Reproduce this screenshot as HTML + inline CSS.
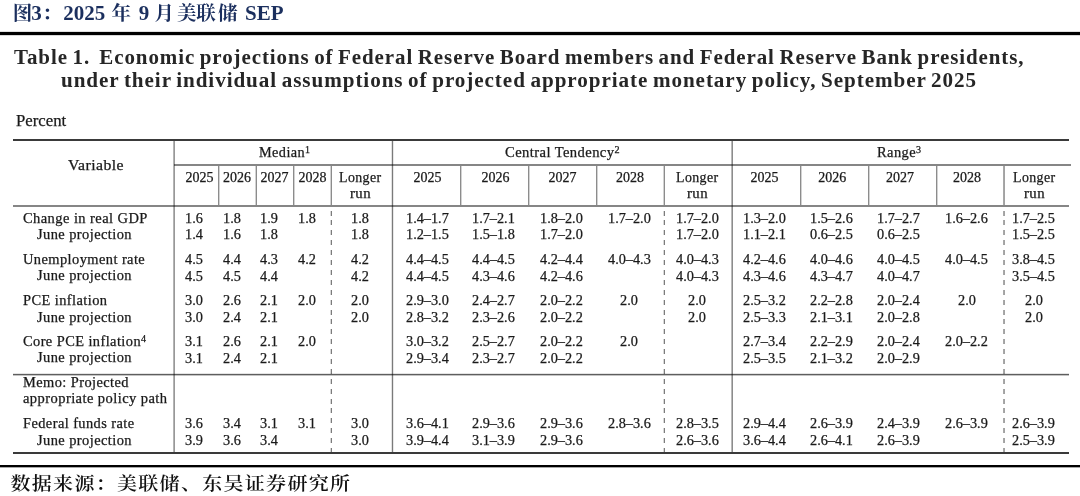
<!DOCTYPE html>
<html><head><meta charset="utf-8"><title>Table 1</title>
<style>
html,body{margin:0;padding:0;background:#fff;}
body{width:1080px;height:496px;position:relative;overflow:hidden;}
.t{position:absolute;line-height:0;white-space:pre;transform-origin:0 0;}
.r{-webkit-text-stroke:0.25px currentColor;}
.l{position:absolute;mix-blend-mode:multiply;}
sup{font-size:70%;vertical-align:0;position:relative;top:-0.45em;line-height:0}
</style></head><body>
<div class='l' style='left:0px;top:31px;width:1080px;height:1px;background:#e0e0e0'></div>
<div class='l' style='left:0px;top:32px;width:1080px;height:3px;background:#000'></div>
<div class='l' style='left:0px;top:35px;width:1080px;height:1px;background:#d8d8d8'></div>
<div class='l' style='left:13px;top:139px;width:1056px;height:2px;background:#3a3a3a'></div>
<div class='l' style='left:174px;top:164px;width:897px;height:2px;background:#868686'></div>
<div class='l' style='left:13px;top:205px;width:1056px;height:2px;background:#868686'></div>
<div class='l' style='left:13px;top:373px;width:1056px;height:1px;background:#e4e4e4'></div>
<div class='l' style='left:13px;top:374px;width:1056px;height:1px;background:#5e5e5e'></div>
<div class='l' style='left:13px;top:375px;width:1056px;height:1px;background:#c4c4c4'></div>
<div class='l' style='left:13px;top:452px;width:1056px;height:2px;background:#3a3a3a'></div>
<div class='l' style='left:0px;top:465px;width:1080px;height:2px;background:#000'></div>
<div class='l' style='left:0px;top:467px;width:1080px;height:1px;background:#a8a8a8'></div>
<div class='l' style='left:173px;top:141px;width:1px;height:311px;background:#b4b4b4'></div>
<div class='l' style='left:174px;top:141px;width:1px;height:311px;background:#989898'></div>
<div class='l' style='left:391px;top:141px;width:1px;height:311px;background:#e2e2e2'></div>
<div class='l' style='left:392px;top:141px;width:1px;height:311px;background:#7a7a7a'></div>
<div class='l' style='left:393px;top:141px;width:1px;height:311px;background:#e8e8e8'></div>
<div class='l' style='left:731px;top:141px;width:1px;height:311px;background:#bababa'></div>
<div class='l' style='left:732px;top:141px;width:1px;height:311px;background:#8c8c8c'></div>
<div class='l' style='left:218px;top:166px;width:1px;height:39px;background:#8c8c8c'></div>
<div class='l' style='left:219px;top:166px;width:1px;height:39px;background:#d2d2d2'></div>
<div class='l' style='left:256px;top:166px;width:1px;height:39px;background:#8c8c8c'></div>
<div class='l' style='left:255px;top:166px;width:1px;height:39px;background:#d2d2d2'></div>
<div class='l' style='left:293px;top:166px;width:1px;height:39px;background:#8c8c8c'></div>
<div class='l' style='left:294px;top:166px;width:1px;height:39px;background:#d2d2d2'></div>
<div class='l' style='left:460px;top:166px;width:1px;height:39px;background:#8c8c8c'></div>
<div class='l' style='left:461px;top:166px;width:1px;height:39px;background:#d2d2d2'></div>
<div class='l' style='left:528px;top:166px;width:1px;height:39px;background:#8c8c8c'></div>
<div class='l' style='left:529px;top:166px;width:1px;height:39px;background:#d2d2d2'></div>
<div class='l' style='left:596px;top:166px;width:1px;height:39px;background:#8c8c8c'></div>
<div class='l' style='left:597px;top:166px;width:1px;height:39px;background:#d2d2d2'></div>
<div class='l' style='left:800px;top:166px;width:1px;height:39px;background:#8c8c8c'></div>
<div class='l' style='left:801px;top:166px;width:1px;height:39px;background:#d2d2d2'></div>
<div class='l' style='left:868px;top:166px;width:1px;height:39px;background:#8c8c8c'></div>
<div class='l' style='left:869px;top:166px;width:1px;height:39px;background:#d2d2d2'></div>
<div class='l' style='left:936px;top:166px;width:1px;height:39px;background:#8c8c8c'></div>
<div class='l' style='left:937px;top:166px;width:1px;height:39px;background:#d2d2d2'></div>
<div class='l' style='left:331px;top:166px;width:1px;height:39px;background:#8c8c8c'></div>
<div class='l' style='left:330px;top:166px;width:1px;height:39px;background:#d2d2d2'></div>
<div class='l' style='left:331px;top:211px;width:1px;height:5px;background:#7c7c7c'></div>
<div class='l' style='left:331px;top:220px;width:1px;height:5px;background:#7c7c7c'></div>
<div class='l' style='left:331px;top:230px;width:1px;height:5px;background:#7c7c7c'></div>
<div class='l' style='left:331px;top:240px;width:1px;height:5px;background:#7c7c7c'></div>
<div class='l' style='left:331px;top:250px;width:1px;height:5px;background:#7c7c7c'></div>
<div class='l' style='left:331px;top:260px;width:1px;height:5px;background:#7c7c7c'></div>
<div class='l' style='left:331px;top:270px;width:1px;height:5px;background:#7c7c7c'></div>
<div class='l' style='left:331px;top:280px;width:1px;height:5px;background:#7c7c7c'></div>
<div class='l' style='left:331px;top:290px;width:1px;height:5px;background:#7c7c7c'></div>
<div class='l' style='left:331px;top:300px;width:1px;height:5px;background:#7c7c7c'></div>
<div class='l' style='left:331px;top:310px;width:1px;height:5px;background:#7c7c7c'></div>
<div class='l' style='left:331px;top:319px;width:1px;height:5px;background:#7c7c7c'></div>
<div class='l' style='left:331px;top:329px;width:1px;height:5px;background:#7c7c7c'></div>
<div class='l' style='left:331px;top:339px;width:1px;height:5px;background:#7c7c7c'></div>
<div class='l' style='left:331px;top:349px;width:1px;height:5px;background:#7c7c7c'></div>
<div class='l' style='left:331px;top:359px;width:1px;height:5px;background:#7c7c7c'></div>
<div class='l' style='left:331px;top:369px;width:1px;height:5px;background:#7c7c7c'></div>
<div class='l' style='left:331px;top:379px;width:1px;height:5px;background:#7c7c7c'></div>
<div class='l' style='left:331px;top:389px;width:1px;height:5px;background:#7c7c7c'></div>
<div class='l' style='left:331px;top:399px;width:1px;height:5px;background:#7c7c7c'></div>
<div class='l' style='left:331px;top:408px;width:1px;height:5px;background:#7c7c7c'></div>
<div class='l' style='left:331px;top:418px;width:1px;height:5px;background:#7c7c7c'></div>
<div class='l' style='left:331px;top:428px;width:1px;height:5px;background:#7c7c7c'></div>
<div class='l' style='left:331px;top:438px;width:1px;height:5px;background:#7c7c7c'></div>
<div class='l' style='left:331px;top:448px;width:1px;height:4px;background:#7c7c7c'></div>
<div class='l' style='left:330px;top:211px;width:1px;height:5px;background:#d8d8d8'></div>
<div class='l' style='left:330px;top:220px;width:1px;height:5px;background:#d8d8d8'></div>
<div class='l' style='left:330px;top:230px;width:1px;height:5px;background:#d8d8d8'></div>
<div class='l' style='left:330px;top:240px;width:1px;height:5px;background:#d8d8d8'></div>
<div class='l' style='left:330px;top:250px;width:1px;height:5px;background:#d8d8d8'></div>
<div class='l' style='left:330px;top:260px;width:1px;height:5px;background:#d8d8d8'></div>
<div class='l' style='left:330px;top:270px;width:1px;height:5px;background:#d8d8d8'></div>
<div class='l' style='left:330px;top:280px;width:1px;height:5px;background:#d8d8d8'></div>
<div class='l' style='left:330px;top:290px;width:1px;height:5px;background:#d8d8d8'></div>
<div class='l' style='left:330px;top:300px;width:1px;height:5px;background:#d8d8d8'></div>
<div class='l' style='left:330px;top:310px;width:1px;height:5px;background:#d8d8d8'></div>
<div class='l' style='left:330px;top:319px;width:1px;height:5px;background:#d8d8d8'></div>
<div class='l' style='left:330px;top:329px;width:1px;height:5px;background:#d8d8d8'></div>
<div class='l' style='left:330px;top:339px;width:1px;height:5px;background:#d8d8d8'></div>
<div class='l' style='left:330px;top:349px;width:1px;height:5px;background:#d8d8d8'></div>
<div class='l' style='left:330px;top:359px;width:1px;height:5px;background:#d8d8d8'></div>
<div class='l' style='left:330px;top:369px;width:1px;height:5px;background:#d8d8d8'></div>
<div class='l' style='left:330px;top:379px;width:1px;height:5px;background:#d8d8d8'></div>
<div class='l' style='left:330px;top:389px;width:1px;height:5px;background:#d8d8d8'></div>
<div class='l' style='left:330px;top:399px;width:1px;height:5px;background:#d8d8d8'></div>
<div class='l' style='left:330px;top:408px;width:1px;height:5px;background:#d8d8d8'></div>
<div class='l' style='left:330px;top:418px;width:1px;height:5px;background:#d8d8d8'></div>
<div class='l' style='left:330px;top:428px;width:1px;height:5px;background:#d8d8d8'></div>
<div class='l' style='left:330px;top:438px;width:1px;height:5px;background:#d8d8d8'></div>
<div class='l' style='left:330px;top:448px;width:1px;height:4px;background:#d8d8d8'></div>
<div class='l' style='left:664px;top:166px;width:1px;height:39px;background:#8c8c8c'></div>
<div class='l' style='left:663px;top:166px;width:1px;height:39px;background:#d2d2d2'></div>
<div class='l' style='left:664px;top:211px;width:1px;height:5px;background:#7c7c7c'></div>
<div class='l' style='left:664px;top:220px;width:1px;height:5px;background:#7c7c7c'></div>
<div class='l' style='left:664px;top:230px;width:1px;height:5px;background:#7c7c7c'></div>
<div class='l' style='left:664px;top:240px;width:1px;height:5px;background:#7c7c7c'></div>
<div class='l' style='left:664px;top:250px;width:1px;height:5px;background:#7c7c7c'></div>
<div class='l' style='left:664px;top:260px;width:1px;height:5px;background:#7c7c7c'></div>
<div class='l' style='left:664px;top:270px;width:1px;height:5px;background:#7c7c7c'></div>
<div class='l' style='left:664px;top:280px;width:1px;height:5px;background:#7c7c7c'></div>
<div class='l' style='left:664px;top:290px;width:1px;height:5px;background:#7c7c7c'></div>
<div class='l' style='left:664px;top:300px;width:1px;height:5px;background:#7c7c7c'></div>
<div class='l' style='left:664px;top:310px;width:1px;height:5px;background:#7c7c7c'></div>
<div class='l' style='left:664px;top:319px;width:1px;height:5px;background:#7c7c7c'></div>
<div class='l' style='left:664px;top:329px;width:1px;height:5px;background:#7c7c7c'></div>
<div class='l' style='left:664px;top:339px;width:1px;height:5px;background:#7c7c7c'></div>
<div class='l' style='left:664px;top:349px;width:1px;height:5px;background:#7c7c7c'></div>
<div class='l' style='left:664px;top:359px;width:1px;height:5px;background:#7c7c7c'></div>
<div class='l' style='left:664px;top:369px;width:1px;height:5px;background:#7c7c7c'></div>
<div class='l' style='left:664px;top:379px;width:1px;height:5px;background:#7c7c7c'></div>
<div class='l' style='left:664px;top:389px;width:1px;height:5px;background:#7c7c7c'></div>
<div class='l' style='left:664px;top:399px;width:1px;height:5px;background:#7c7c7c'></div>
<div class='l' style='left:664px;top:408px;width:1px;height:5px;background:#7c7c7c'></div>
<div class='l' style='left:664px;top:418px;width:1px;height:5px;background:#7c7c7c'></div>
<div class='l' style='left:664px;top:428px;width:1px;height:5px;background:#7c7c7c'></div>
<div class='l' style='left:664px;top:438px;width:1px;height:5px;background:#7c7c7c'></div>
<div class='l' style='left:664px;top:448px;width:1px;height:4px;background:#7c7c7c'></div>
<div class='l' style='left:663px;top:211px;width:1px;height:5px;background:#d8d8d8'></div>
<div class='l' style='left:663px;top:220px;width:1px;height:5px;background:#d8d8d8'></div>
<div class='l' style='left:663px;top:230px;width:1px;height:5px;background:#d8d8d8'></div>
<div class='l' style='left:663px;top:240px;width:1px;height:5px;background:#d8d8d8'></div>
<div class='l' style='left:663px;top:250px;width:1px;height:5px;background:#d8d8d8'></div>
<div class='l' style='left:663px;top:260px;width:1px;height:5px;background:#d8d8d8'></div>
<div class='l' style='left:663px;top:270px;width:1px;height:5px;background:#d8d8d8'></div>
<div class='l' style='left:663px;top:280px;width:1px;height:5px;background:#d8d8d8'></div>
<div class='l' style='left:663px;top:290px;width:1px;height:5px;background:#d8d8d8'></div>
<div class='l' style='left:663px;top:300px;width:1px;height:5px;background:#d8d8d8'></div>
<div class='l' style='left:663px;top:310px;width:1px;height:5px;background:#d8d8d8'></div>
<div class='l' style='left:663px;top:319px;width:1px;height:5px;background:#d8d8d8'></div>
<div class='l' style='left:663px;top:329px;width:1px;height:5px;background:#d8d8d8'></div>
<div class='l' style='left:663px;top:339px;width:1px;height:5px;background:#d8d8d8'></div>
<div class='l' style='left:663px;top:349px;width:1px;height:5px;background:#d8d8d8'></div>
<div class='l' style='left:663px;top:359px;width:1px;height:5px;background:#d8d8d8'></div>
<div class='l' style='left:663px;top:369px;width:1px;height:5px;background:#d8d8d8'></div>
<div class='l' style='left:663px;top:379px;width:1px;height:5px;background:#d8d8d8'></div>
<div class='l' style='left:663px;top:389px;width:1px;height:5px;background:#d8d8d8'></div>
<div class='l' style='left:663px;top:399px;width:1px;height:5px;background:#d8d8d8'></div>
<div class='l' style='left:663px;top:408px;width:1px;height:5px;background:#d8d8d8'></div>
<div class='l' style='left:663px;top:418px;width:1px;height:5px;background:#d8d8d8'></div>
<div class='l' style='left:663px;top:428px;width:1px;height:5px;background:#d8d8d8'></div>
<div class='l' style='left:663px;top:438px;width:1px;height:5px;background:#d8d8d8'></div>
<div class='l' style='left:663px;top:448px;width:1px;height:4px;background:#d8d8d8'></div>
<div class='l' style='left:1004px;top:166px;width:1px;height:39px;background:#a2a2a2'></div>
<div class='l' style='left:1003px;top:166px;width:1px;height:39px;background:#a8a8a8'></div>
<div class='l' style='left:1004px;top:211px;width:1px;height:5px;background:#a2a2a2'></div>
<div class='l' style='left:1004px;top:220px;width:1px;height:5px;background:#a2a2a2'></div>
<div class='l' style='left:1004px;top:230px;width:1px;height:5px;background:#a2a2a2'></div>
<div class='l' style='left:1004px;top:240px;width:1px;height:5px;background:#a2a2a2'></div>
<div class='l' style='left:1004px;top:250px;width:1px;height:5px;background:#a2a2a2'></div>
<div class='l' style='left:1004px;top:260px;width:1px;height:5px;background:#a2a2a2'></div>
<div class='l' style='left:1004px;top:270px;width:1px;height:5px;background:#a2a2a2'></div>
<div class='l' style='left:1004px;top:280px;width:1px;height:5px;background:#a2a2a2'></div>
<div class='l' style='left:1004px;top:290px;width:1px;height:5px;background:#a2a2a2'></div>
<div class='l' style='left:1004px;top:300px;width:1px;height:5px;background:#a2a2a2'></div>
<div class='l' style='left:1004px;top:310px;width:1px;height:5px;background:#a2a2a2'></div>
<div class='l' style='left:1004px;top:319px;width:1px;height:5px;background:#a2a2a2'></div>
<div class='l' style='left:1004px;top:329px;width:1px;height:5px;background:#a2a2a2'></div>
<div class='l' style='left:1004px;top:339px;width:1px;height:5px;background:#a2a2a2'></div>
<div class='l' style='left:1004px;top:349px;width:1px;height:5px;background:#a2a2a2'></div>
<div class='l' style='left:1004px;top:359px;width:1px;height:5px;background:#a2a2a2'></div>
<div class='l' style='left:1004px;top:369px;width:1px;height:5px;background:#a2a2a2'></div>
<div class='l' style='left:1004px;top:379px;width:1px;height:5px;background:#a2a2a2'></div>
<div class='l' style='left:1004px;top:389px;width:1px;height:5px;background:#a2a2a2'></div>
<div class='l' style='left:1004px;top:399px;width:1px;height:5px;background:#a2a2a2'></div>
<div class='l' style='left:1004px;top:408px;width:1px;height:5px;background:#a2a2a2'></div>
<div class='l' style='left:1004px;top:418px;width:1px;height:5px;background:#a2a2a2'></div>
<div class='l' style='left:1004px;top:428px;width:1px;height:5px;background:#a2a2a2'></div>
<div class='l' style='left:1004px;top:438px;width:1px;height:5px;background:#a2a2a2'></div>
<div class='l' style='left:1004px;top:448px;width:1px;height:4px;background:#a2a2a2'></div>
<div class='l' style='left:1003px;top:211px;width:1px;height:5px;background:#a8a8a8'></div>
<div class='l' style='left:1003px;top:220px;width:1px;height:5px;background:#a8a8a8'></div>
<div class='l' style='left:1003px;top:230px;width:1px;height:5px;background:#a8a8a8'></div>
<div class='l' style='left:1003px;top:240px;width:1px;height:5px;background:#a8a8a8'></div>
<div class='l' style='left:1003px;top:250px;width:1px;height:5px;background:#a8a8a8'></div>
<div class='l' style='left:1003px;top:260px;width:1px;height:5px;background:#a8a8a8'></div>
<div class='l' style='left:1003px;top:270px;width:1px;height:5px;background:#a8a8a8'></div>
<div class='l' style='left:1003px;top:280px;width:1px;height:5px;background:#a8a8a8'></div>
<div class='l' style='left:1003px;top:290px;width:1px;height:5px;background:#a8a8a8'></div>
<div class='l' style='left:1003px;top:300px;width:1px;height:5px;background:#a8a8a8'></div>
<div class='l' style='left:1003px;top:310px;width:1px;height:5px;background:#a8a8a8'></div>
<div class='l' style='left:1003px;top:319px;width:1px;height:5px;background:#a8a8a8'></div>
<div class='l' style='left:1003px;top:329px;width:1px;height:5px;background:#a8a8a8'></div>
<div class='l' style='left:1003px;top:339px;width:1px;height:5px;background:#a8a8a8'></div>
<div class='l' style='left:1003px;top:349px;width:1px;height:5px;background:#a8a8a8'></div>
<div class='l' style='left:1003px;top:359px;width:1px;height:5px;background:#a8a8a8'></div>
<div class='l' style='left:1003px;top:369px;width:1px;height:5px;background:#a8a8a8'></div>
<div class='l' style='left:1003px;top:379px;width:1px;height:5px;background:#a8a8a8'></div>
<div class='l' style='left:1003px;top:389px;width:1px;height:5px;background:#a8a8a8'></div>
<div class='l' style='left:1003px;top:399px;width:1px;height:5px;background:#a8a8a8'></div>
<div class='l' style='left:1003px;top:408px;width:1px;height:5px;background:#a8a8a8'></div>
<div class='l' style='left:1003px;top:418px;width:1px;height:5px;background:#a8a8a8'></div>
<div class='l' style='left:1003px;top:428px;width:1px;height:5px;background:#a8a8a8'></div>
<div class='l' style='left:1003px;top:438px;width:1px;height:5px;background:#a8a8a8'></div>
<div class='l' style='left:1003px;top:448px;width:1px;height:4px;background:#a8a8a8'></div>
<div class="t" style="left:12.70px;top:13.87px;font-size:19.5px;font-family:'Liberation Serif', 'Noto Serif CJK SC', serif;font-weight:700;color:#1b2f5e;">图</div>
<div class="t" style="left:31.20px;top:13.07px;font-size:21px;font-family:'Liberation Serif', serif;font-weight:700;color:#1b2f5e;">3</div>
<div class="t" style="left:42.20px;top:13.87px;font-size:19.5px;font-family:'Liberation Serif', 'Noto Serif CJK SC', serif;font-weight:700;color:#1b2f5e;">：</div>
<div class="t" style="left:63.20px;top:13.07px;font-size:21px;font-family:'Liberation Serif', serif;font-weight:700;color:#1b2f5e;">2025</div>
<div class="t" style="left:111.50px;top:13.87px;font-size:19.5px;font-family:'Liberation Serif', 'Noto Serif CJK SC', serif;font-weight:700;color:#1b2f5e;">年</div>
<div class="t" style="left:138.70px;top:13.07px;font-size:21px;font-family:'Liberation Serif', serif;font-weight:700;color:#1b2f5e;">9</div>
<div class="t" style="left:154.50px;top:13.87px;font-size:19.5px;font-family:'Liberation Serif', 'Noto Serif CJK SC', serif;font-weight:700;color:#1b2f5e;">月</div>
<div class="t" style="left:177.00px;top:13.87px;font-size:19.5px;font-family:'Liberation Serif', 'Noto Serif CJK SC', serif;font-weight:700;color:#1b2f5e;">美</div>
<div class="t" style="left:196.30px;top:13.87px;font-size:19.5px;font-family:'Liberation Serif', 'Noto Serif CJK SC', serif;font-weight:700;color:#1b2f5e;">联</div>
<div class="t" style="left:218.00px;top:13.87px;font-size:19.5px;font-family:'Liberation Serif', 'Noto Serif CJK SC', serif;font-weight:700;color:#1b2f5e;">储</div>
<div class="t" style="left:245.00px;top:13.07px;font-size:21px;font-family:'Liberation Serif', serif;font-weight:700;color:#1b2f5e;">SEP</div>
<div class="t" style="left:14.00px;top:57.33px;font-size:20.5px;font-family:'Liberation Serif', serif;font-weight:700;color:#262626;transform:scaleX(1.0220);letter-spacing:0.9px;word-spacing:-1.5px;">Table 1.&nbsp; Economic projections of Federal Reserve Board members and Federal Reserve Bank presidents,</div>
<div class="t" style="left:61.00px;top:79.73px;font-size:20.5px;font-family:'Liberation Serif', serif;font-weight:700;color:#262626;transform:scaleX(1.0303);letter-spacing:0.9px;word-spacing:-1.5px;">under their individual assumptions of projected appropriate monetary policy, September 2025</div>
<div class="t r" style="left:16.20px;top:120.95px;font-size:16.2px;font-family:'Liberation Serif', serif;font-weight:400;color:#1a1a1a;transform:scaleX(1.0341);">Percent</div>
<div class="t r" style="left:67.80px;top:165.25px;font-size:14.4px;font-family:'Liberation Serif', serif;font-weight:400;color:#1a1a1a;transform:scaleX(1.0947);letter-spacing:0.4px;">Variable</div>
<div class="t r" style="left:259.30px;top:152.41px;font-size:14.2px;font-family:'Liberation Serif', serif;font-weight:400;color:#1a1a1a;transform:scaleX(1.0073);letter-spacing:0.4px;">Median<sup>1</sup></div>
<div class="t r" style="left:505.00px;top:152.41px;font-size:14.2px;font-family:'Liberation Serif', serif;font-weight:400;color:#1a1a1a;transform:scaleX(1.0289);letter-spacing:0.4px;">Central Tendency<sup>2</sup></div>
<div class="t r" style="left:877.00px;top:152.41px;font-size:14.2px;font-family:'Liberation Serif', serif;font-weight:400;color:#1a1a1a;transform:scaleX(1.0201);letter-spacing:0.4px;">Range<sup>3</sup></div>
<div class="t r" style="left:185.50px;top:177.88px;font-size:14.0px;font-family:'Liberation Serif', serif;font-weight:400;color:#1a1a1a;">2025</div>
<div class="t r" style="left:223.10px;top:177.88px;font-size:14.0px;font-family:'Liberation Serif', serif;font-weight:400;color:#1a1a1a;">2026</div>
<div class="t r" style="left:260.50px;top:177.88px;font-size:14.0px;font-family:'Liberation Serif', serif;font-weight:400;color:#1a1a1a;">2027</div>
<div class="t r" style="left:298.60px;top:177.88px;font-size:14.0px;font-family:'Liberation Serif', serif;font-weight:400;color:#1a1a1a;">2028</div>
<div class="t r" style="left:339.05px;top:177.88px;font-size:14.0px;font-family:'Liberation Serif', serif;font-weight:400;color:#1a1a1a;transform:scaleX(0.9923);letter-spacing:0.4px;">Longer</div>
<div class="t r" style="left:349.80px;top:193.78px;font-size:14.0px;font-family:'Liberation Serif', serif;font-weight:400;color:#1a1a1a;transform:scaleX(1.0566);letter-spacing:0.4px;">run</div>
<div class="t r" style="left:413.60px;top:177.88px;font-size:14.0px;font-family:'Liberation Serif', serif;font-weight:400;color:#1a1a1a;">2025</div>
<div class="t r" style="left:481.40px;top:177.88px;font-size:14.0px;font-family:'Liberation Serif', serif;font-weight:400;color:#1a1a1a;">2026</div>
<div class="t r" style="left:548.50px;top:177.88px;font-size:14.0px;font-family:'Liberation Serif', serif;font-weight:400;color:#1a1a1a;">2027</div>
<div class="t r" style="left:616.00px;top:177.88px;font-size:14.0px;font-family:'Liberation Serif', serif;font-weight:400;color:#1a1a1a;">2028</div>
<div class="t r" style="left:676.15px;top:177.88px;font-size:14.0px;font-family:'Liberation Serif', serif;font-weight:400;color:#1a1a1a;transform:scaleX(0.9923);letter-spacing:0.4px;">Longer</div>
<div class="t r" style="left:686.90px;top:193.78px;font-size:14.0px;font-family:'Liberation Serif', serif;font-weight:400;color:#1a1a1a;transform:scaleX(1.0566);letter-spacing:0.4px;">run</div>
<div class="t r" style="left:750.60px;top:177.88px;font-size:14.0px;font-family:'Liberation Serif', serif;font-weight:400;color:#1a1a1a;">2025</div>
<div class="t r" style="left:818.30px;top:177.88px;font-size:14.0px;font-family:'Liberation Serif', serif;font-weight:400;color:#1a1a1a;">2026</div>
<div class="t r" style="left:885.90px;top:177.88px;font-size:14.0px;font-family:'Liberation Serif', serif;font-weight:400;color:#1a1a1a;">2027</div>
<div class="t r" style="left:953.10px;top:177.88px;font-size:14.0px;font-family:'Liberation Serif', serif;font-weight:400;color:#1a1a1a;">2028</div>
<div class="t r" style="left:1013.05px;top:177.88px;font-size:14.0px;font-family:'Liberation Serif', serif;font-weight:400;color:#1a1a1a;transform:scaleX(0.9923);letter-spacing:0.4px;">Longer</div>
<div class="t r" style="left:1023.80px;top:193.78px;font-size:14.0px;font-family:'Liberation Serif', serif;font-weight:400;color:#1a1a1a;transform:scaleX(1.0566);letter-spacing:0.4px;">run</div>
<div class="t r" style="left:23.30px;top:218.91px;font-size:13.6px;font-family:'Liberation Serif', serif;font-weight:400;color:#1a1a1a;transform:scaleX(1.0661);letter-spacing:0.4px;">Change in real GDP</div>
<div class="t r" style="left:185.18px;top:219.11px;font-size:13.6px;font-family:'Liberation Serif', serif;font-weight:400;color:#1a1a1a;transform:scaleX(1.0500);">1.6</div>
<div class="t r" style="left:222.88px;top:219.11px;font-size:13.6px;font-family:'Liberation Serif', serif;font-weight:400;color:#1a1a1a;transform:scaleX(1.0500);">1.8</div>
<div class="t r" style="left:260.38px;top:219.11px;font-size:13.6px;font-family:'Liberation Serif', serif;font-weight:400;color:#1a1a1a;transform:scaleX(1.0500);">1.9</div>
<div class="t r" style="left:298.27px;top:219.11px;font-size:13.6px;font-family:'Liberation Serif', serif;font-weight:400;color:#1a1a1a;transform:scaleX(1.0500);">1.8</div>
<div class="t r" style="left:350.98px;top:219.11px;font-size:13.6px;font-family:'Liberation Serif', serif;font-weight:400;color:#1a1a1a;transform:scaleX(1.0500);">1.8</div>
<div class="t r" style="left:405.89px;top:219.11px;font-size:13.6px;font-family:'Liberation Serif', serif;font-weight:400;color:#1a1a1a;transform:scaleX(1.0500);">1.4–1.7</div>
<div class="t r" style="left:472.49px;top:219.11px;font-size:13.6px;font-family:'Liberation Serif', serif;font-weight:400;color:#1a1a1a;transform:scaleX(1.0500);">1.7–2.1</div>
<div class="t r" style="left:540.29px;top:219.11px;font-size:13.6px;font-family:'Liberation Serif', serif;font-weight:400;color:#1a1a1a;transform:scaleX(1.0500);">1.8–2.0</div>
<div class="t r" style="left:607.89px;top:219.11px;font-size:13.6px;font-family:'Liberation Serif', serif;font-weight:400;color:#1a1a1a;transform:scaleX(1.0500);">1.7–2.0</div>
<div class="t r" style="left:675.59px;top:219.11px;font-size:13.6px;font-family:'Liberation Serif', serif;font-weight:400;color:#1a1a1a;transform:scaleX(1.0500);">1.7–2.0</div>
<div class="t r" style="left:742.59px;top:219.11px;font-size:13.6px;font-family:'Liberation Serif', serif;font-weight:400;color:#1a1a1a;transform:scaleX(1.0500);">1.3–2.0</div>
<div class="t r" style="left:810.19px;top:219.11px;font-size:13.6px;font-family:'Liberation Serif', serif;font-weight:400;color:#1a1a1a;transform:scaleX(1.0500);">1.5–2.6</div>
<div class="t r" style="left:877.29px;top:219.11px;font-size:13.6px;font-family:'Liberation Serif', serif;font-weight:400;color:#1a1a1a;transform:scaleX(1.0500);">1.7–2.7</div>
<div class="t r" style="left:945.09px;top:219.11px;font-size:13.6px;font-family:'Liberation Serif', serif;font-weight:400;color:#1a1a1a;transform:scaleX(1.0500);">1.6–2.6</div>
<div class="t r" style="left:1012.29px;top:219.11px;font-size:13.6px;font-family:'Liberation Serif', serif;font-weight:400;color:#1a1a1a;transform:scaleX(1.0500);">1.7–2.5</div>
<div class="t r" style="left:37.00px;top:235.11px;font-size:13.6px;font-family:'Liberation Serif', serif;font-weight:400;color:#1a1a1a;transform:scaleX(1.0622);letter-spacing:0.4px;">June projection</div>
<div class="t r" style="left:185.18px;top:235.31px;font-size:13.6px;font-family:'Liberation Serif', serif;font-weight:400;color:#1a1a1a;transform:scaleX(1.0500);">1.4</div>
<div class="t r" style="left:222.88px;top:235.31px;font-size:13.6px;font-family:'Liberation Serif', serif;font-weight:400;color:#1a1a1a;transform:scaleX(1.0500);">1.6</div>
<div class="t r" style="left:260.38px;top:235.31px;font-size:13.6px;font-family:'Liberation Serif', serif;font-weight:400;color:#1a1a1a;transform:scaleX(1.0500);">1.8</div>
<div class="t r" style="left:350.98px;top:235.31px;font-size:13.6px;font-family:'Liberation Serif', serif;font-weight:400;color:#1a1a1a;transform:scaleX(1.0500);">1.8</div>
<div class="t r" style="left:405.89px;top:235.31px;font-size:13.6px;font-family:'Liberation Serif', serif;font-weight:400;color:#1a1a1a;transform:scaleX(1.0500);">1.2–1.5</div>
<div class="t r" style="left:472.49px;top:235.31px;font-size:13.6px;font-family:'Liberation Serif', serif;font-weight:400;color:#1a1a1a;transform:scaleX(1.0500);">1.5–1.8</div>
<div class="t r" style="left:540.29px;top:235.31px;font-size:13.6px;font-family:'Liberation Serif', serif;font-weight:400;color:#1a1a1a;transform:scaleX(1.0500);">1.7–2.0</div>
<div class="t r" style="left:675.59px;top:235.31px;font-size:13.6px;font-family:'Liberation Serif', serif;font-weight:400;color:#1a1a1a;transform:scaleX(1.0500);">1.7–2.0</div>
<div class="t r" style="left:742.59px;top:235.31px;font-size:13.6px;font-family:'Liberation Serif', serif;font-weight:400;color:#1a1a1a;transform:scaleX(1.0500);">1.1–2.1</div>
<div class="t r" style="left:810.19px;top:235.31px;font-size:13.6px;font-family:'Liberation Serif', serif;font-weight:400;color:#1a1a1a;transform:scaleX(1.0500);">0.6–2.5</div>
<div class="t r" style="left:877.29px;top:235.31px;font-size:13.6px;font-family:'Liberation Serif', serif;font-weight:400;color:#1a1a1a;transform:scaleX(1.0500);">0.6–2.5</div>
<div class="t r" style="left:1012.29px;top:235.31px;font-size:13.6px;font-family:'Liberation Serif', serif;font-weight:400;color:#1a1a1a;transform:scaleX(1.0500);">1.5–2.5</div>
<div class="t r" style="left:23.30px;top:260.01px;font-size:13.6px;font-family:'Liberation Serif', serif;font-weight:400;color:#1a1a1a;transform:scaleX(1.0613);letter-spacing:0.4px;">Unemployment rate</div>
<div class="t r" style="left:185.18px;top:260.21px;font-size:13.6px;font-family:'Liberation Serif', serif;font-weight:400;color:#1a1a1a;transform:scaleX(1.0500);">4.5</div>
<div class="t r" style="left:222.88px;top:260.21px;font-size:13.6px;font-family:'Liberation Serif', serif;font-weight:400;color:#1a1a1a;transform:scaleX(1.0500);">4.4</div>
<div class="t r" style="left:260.38px;top:260.21px;font-size:13.6px;font-family:'Liberation Serif', serif;font-weight:400;color:#1a1a1a;transform:scaleX(1.0500);">4.3</div>
<div class="t r" style="left:298.27px;top:260.21px;font-size:13.6px;font-family:'Liberation Serif', serif;font-weight:400;color:#1a1a1a;transform:scaleX(1.0500);">4.2</div>
<div class="t r" style="left:350.98px;top:260.21px;font-size:13.6px;font-family:'Liberation Serif', serif;font-weight:400;color:#1a1a1a;transform:scaleX(1.0500);">4.2</div>
<div class="t r" style="left:405.89px;top:260.21px;font-size:13.6px;font-family:'Liberation Serif', serif;font-weight:400;color:#1a1a1a;transform:scaleX(1.0500);">4.4–4.5</div>
<div class="t r" style="left:472.49px;top:260.21px;font-size:13.6px;font-family:'Liberation Serif', serif;font-weight:400;color:#1a1a1a;transform:scaleX(1.0500);">4.4–4.5</div>
<div class="t r" style="left:540.29px;top:260.21px;font-size:13.6px;font-family:'Liberation Serif', serif;font-weight:400;color:#1a1a1a;transform:scaleX(1.0500);">4.2–4.4</div>
<div class="t r" style="left:607.89px;top:260.21px;font-size:13.6px;font-family:'Liberation Serif', serif;font-weight:400;color:#1a1a1a;transform:scaleX(1.0500);">4.0–4.3</div>
<div class="t r" style="left:675.59px;top:260.21px;font-size:13.6px;font-family:'Liberation Serif', serif;font-weight:400;color:#1a1a1a;transform:scaleX(1.0500);">4.0–4.3</div>
<div class="t r" style="left:742.59px;top:260.21px;font-size:13.6px;font-family:'Liberation Serif', serif;font-weight:400;color:#1a1a1a;transform:scaleX(1.0500);">4.2–4.6</div>
<div class="t r" style="left:810.19px;top:260.21px;font-size:13.6px;font-family:'Liberation Serif', serif;font-weight:400;color:#1a1a1a;transform:scaleX(1.0500);">4.0–4.6</div>
<div class="t r" style="left:877.29px;top:260.21px;font-size:13.6px;font-family:'Liberation Serif', serif;font-weight:400;color:#1a1a1a;transform:scaleX(1.0500);">4.0–4.5</div>
<div class="t r" style="left:945.09px;top:260.21px;font-size:13.6px;font-family:'Liberation Serif', serif;font-weight:400;color:#1a1a1a;transform:scaleX(1.0500);">4.0–4.5</div>
<div class="t r" style="left:1012.29px;top:260.21px;font-size:13.6px;font-family:'Liberation Serif', serif;font-weight:400;color:#1a1a1a;transform:scaleX(1.0500);">3.8–4.5</div>
<div class="t r" style="left:37.00px;top:276.41px;font-size:13.6px;font-family:'Liberation Serif', serif;font-weight:400;color:#1a1a1a;transform:scaleX(1.0622);letter-spacing:0.4px;">June projection</div>
<div class="t r" style="left:185.18px;top:276.61px;font-size:13.6px;font-family:'Liberation Serif', serif;font-weight:400;color:#1a1a1a;transform:scaleX(1.0500);">4.5</div>
<div class="t r" style="left:222.88px;top:276.61px;font-size:13.6px;font-family:'Liberation Serif', serif;font-weight:400;color:#1a1a1a;transform:scaleX(1.0500);">4.5</div>
<div class="t r" style="left:260.38px;top:276.61px;font-size:13.6px;font-family:'Liberation Serif', serif;font-weight:400;color:#1a1a1a;transform:scaleX(1.0500);">4.4</div>
<div class="t r" style="left:350.98px;top:276.61px;font-size:13.6px;font-family:'Liberation Serif', serif;font-weight:400;color:#1a1a1a;transform:scaleX(1.0500);">4.2</div>
<div class="t r" style="left:405.89px;top:276.61px;font-size:13.6px;font-family:'Liberation Serif', serif;font-weight:400;color:#1a1a1a;transform:scaleX(1.0500);">4.4–4.5</div>
<div class="t r" style="left:472.49px;top:276.61px;font-size:13.6px;font-family:'Liberation Serif', serif;font-weight:400;color:#1a1a1a;transform:scaleX(1.0500);">4.3–4.6</div>
<div class="t r" style="left:540.29px;top:276.61px;font-size:13.6px;font-family:'Liberation Serif', serif;font-weight:400;color:#1a1a1a;transform:scaleX(1.0500);">4.2–4.6</div>
<div class="t r" style="left:675.59px;top:276.61px;font-size:13.6px;font-family:'Liberation Serif', serif;font-weight:400;color:#1a1a1a;transform:scaleX(1.0500);">4.0–4.3</div>
<div class="t r" style="left:742.59px;top:276.61px;font-size:13.6px;font-family:'Liberation Serif', serif;font-weight:400;color:#1a1a1a;transform:scaleX(1.0500);">4.3–4.6</div>
<div class="t r" style="left:810.19px;top:276.61px;font-size:13.6px;font-family:'Liberation Serif', serif;font-weight:400;color:#1a1a1a;transform:scaleX(1.0500);">4.3–4.7</div>
<div class="t r" style="left:877.29px;top:276.61px;font-size:13.6px;font-family:'Liberation Serif', serif;font-weight:400;color:#1a1a1a;transform:scaleX(1.0500);">4.0–4.7</div>
<div class="t r" style="left:1012.29px;top:276.61px;font-size:13.6px;font-family:'Liberation Serif', serif;font-weight:400;color:#1a1a1a;transform:scaleX(1.0500);">3.5–4.5</div>
<div class="t r" style="left:23.30px;top:301.01px;font-size:13.6px;font-family:'Liberation Serif', serif;font-weight:400;color:#1a1a1a;transform:scaleX(1.0616);letter-spacing:0.4px;">PCE inflation</div>
<div class="t r" style="left:185.18px;top:301.21px;font-size:13.6px;font-family:'Liberation Serif', serif;font-weight:400;color:#1a1a1a;transform:scaleX(1.0500);">3.0</div>
<div class="t r" style="left:222.88px;top:301.21px;font-size:13.6px;font-family:'Liberation Serif', serif;font-weight:400;color:#1a1a1a;transform:scaleX(1.0500);">2.6</div>
<div class="t r" style="left:260.38px;top:301.21px;font-size:13.6px;font-family:'Liberation Serif', serif;font-weight:400;color:#1a1a1a;transform:scaleX(1.0500);">2.1</div>
<div class="t r" style="left:298.27px;top:301.21px;font-size:13.6px;font-family:'Liberation Serif', serif;font-weight:400;color:#1a1a1a;transform:scaleX(1.0500);">2.0</div>
<div class="t r" style="left:350.98px;top:301.21px;font-size:13.6px;font-family:'Liberation Serif', serif;font-weight:400;color:#1a1a1a;transform:scaleX(1.0500);">2.0</div>
<div class="t r" style="left:405.89px;top:301.21px;font-size:13.6px;font-family:'Liberation Serif', serif;font-weight:400;color:#1a1a1a;transform:scaleX(1.0500);">2.9–3.0</div>
<div class="t r" style="left:472.49px;top:301.21px;font-size:13.6px;font-family:'Liberation Serif', serif;font-weight:400;color:#1a1a1a;transform:scaleX(1.0500);">2.4–2.7</div>
<div class="t r" style="left:540.29px;top:301.21px;font-size:13.6px;font-family:'Liberation Serif', serif;font-weight:400;color:#1a1a1a;transform:scaleX(1.0500);">2.0–2.2</div>
<div class="t r" style="left:620.38px;top:301.21px;font-size:13.6px;font-family:'Liberation Serif', serif;font-weight:400;color:#1a1a1a;transform:scaleX(1.0500);">2.0</div>
<div class="t r" style="left:688.08px;top:301.21px;font-size:13.6px;font-family:'Liberation Serif', serif;font-weight:400;color:#1a1a1a;transform:scaleX(1.0500);">2.0</div>
<div class="t r" style="left:742.59px;top:301.21px;font-size:13.6px;font-family:'Liberation Serif', serif;font-weight:400;color:#1a1a1a;transform:scaleX(1.0500);">2.5–3.2</div>
<div class="t r" style="left:810.19px;top:301.21px;font-size:13.6px;font-family:'Liberation Serif', serif;font-weight:400;color:#1a1a1a;transform:scaleX(1.0500);">2.2–2.8</div>
<div class="t r" style="left:877.29px;top:301.21px;font-size:13.6px;font-family:'Liberation Serif', serif;font-weight:400;color:#1a1a1a;transform:scaleX(1.0500);">2.0–2.4</div>
<div class="t r" style="left:957.58px;top:301.21px;font-size:13.6px;font-family:'Liberation Serif', serif;font-weight:400;color:#1a1a1a;transform:scaleX(1.0500);">2.0</div>
<div class="t r" style="left:1024.78px;top:301.21px;font-size:13.6px;font-family:'Liberation Serif', serif;font-weight:400;color:#1a1a1a;transform:scaleX(1.0500);">2.0</div>
<div class="t r" style="left:37.00px;top:317.51px;font-size:13.6px;font-family:'Liberation Serif', serif;font-weight:400;color:#1a1a1a;transform:scaleX(1.0622);letter-spacing:0.4px;">June projection</div>
<div class="t r" style="left:185.18px;top:317.71px;font-size:13.6px;font-family:'Liberation Serif', serif;font-weight:400;color:#1a1a1a;transform:scaleX(1.0500);">3.0</div>
<div class="t r" style="left:222.88px;top:317.71px;font-size:13.6px;font-family:'Liberation Serif', serif;font-weight:400;color:#1a1a1a;transform:scaleX(1.0500);">2.4</div>
<div class="t r" style="left:260.38px;top:317.71px;font-size:13.6px;font-family:'Liberation Serif', serif;font-weight:400;color:#1a1a1a;transform:scaleX(1.0500);">2.1</div>
<div class="t r" style="left:350.98px;top:317.71px;font-size:13.6px;font-family:'Liberation Serif', serif;font-weight:400;color:#1a1a1a;transform:scaleX(1.0500);">2.0</div>
<div class="t r" style="left:405.89px;top:317.71px;font-size:13.6px;font-family:'Liberation Serif', serif;font-weight:400;color:#1a1a1a;transform:scaleX(1.0500);">2.8–3.2</div>
<div class="t r" style="left:472.49px;top:317.71px;font-size:13.6px;font-family:'Liberation Serif', serif;font-weight:400;color:#1a1a1a;transform:scaleX(1.0500);">2.3–2.6</div>
<div class="t r" style="left:540.29px;top:317.71px;font-size:13.6px;font-family:'Liberation Serif', serif;font-weight:400;color:#1a1a1a;transform:scaleX(1.0500);">2.0–2.2</div>
<div class="t r" style="left:688.08px;top:317.71px;font-size:13.6px;font-family:'Liberation Serif', serif;font-weight:400;color:#1a1a1a;transform:scaleX(1.0500);">2.0</div>
<div class="t r" style="left:742.59px;top:317.71px;font-size:13.6px;font-family:'Liberation Serif', serif;font-weight:400;color:#1a1a1a;transform:scaleX(1.0500);">2.5–3.3</div>
<div class="t r" style="left:810.19px;top:317.71px;font-size:13.6px;font-family:'Liberation Serif', serif;font-weight:400;color:#1a1a1a;transform:scaleX(1.0500);">2.1–3.1</div>
<div class="t r" style="left:877.29px;top:317.71px;font-size:13.6px;font-family:'Liberation Serif', serif;font-weight:400;color:#1a1a1a;transform:scaleX(1.0500);">2.0–2.8</div>
<div class="t r" style="left:1024.78px;top:317.71px;font-size:13.6px;font-family:'Liberation Serif', serif;font-weight:400;color:#1a1a1a;transform:scaleX(1.0500);">2.0</div>
<div class="t r" style="left:23.30px;top:342.11px;font-size:13.6px;font-family:'Liberation Serif', serif;font-weight:400;color:#1a1a1a;transform:scaleX(1.0592);letter-spacing:0.4px;">Core PCE inflation<sup>4</sup></div>
<div class="t r" style="left:185.18px;top:342.31px;font-size:13.6px;font-family:'Liberation Serif', serif;font-weight:400;color:#1a1a1a;transform:scaleX(1.0500);">3.1</div>
<div class="t r" style="left:222.88px;top:342.31px;font-size:13.6px;font-family:'Liberation Serif', serif;font-weight:400;color:#1a1a1a;transform:scaleX(1.0500);">2.6</div>
<div class="t r" style="left:260.38px;top:342.31px;font-size:13.6px;font-family:'Liberation Serif', serif;font-weight:400;color:#1a1a1a;transform:scaleX(1.0500);">2.1</div>
<div class="t r" style="left:298.27px;top:342.31px;font-size:13.6px;font-family:'Liberation Serif', serif;font-weight:400;color:#1a1a1a;transform:scaleX(1.0500);">2.0</div>
<div class="t r" style="left:405.89px;top:342.31px;font-size:13.6px;font-family:'Liberation Serif', serif;font-weight:400;color:#1a1a1a;transform:scaleX(1.0500);">3.0–3.2</div>
<div class="t r" style="left:472.49px;top:342.31px;font-size:13.6px;font-family:'Liberation Serif', serif;font-weight:400;color:#1a1a1a;transform:scaleX(1.0500);">2.5–2.7</div>
<div class="t r" style="left:540.29px;top:342.31px;font-size:13.6px;font-family:'Liberation Serif', serif;font-weight:400;color:#1a1a1a;transform:scaleX(1.0500);">2.0–2.2</div>
<div class="t r" style="left:620.38px;top:342.31px;font-size:13.6px;font-family:'Liberation Serif', serif;font-weight:400;color:#1a1a1a;transform:scaleX(1.0500);">2.0</div>
<div class="t r" style="left:742.59px;top:342.31px;font-size:13.6px;font-family:'Liberation Serif', serif;font-weight:400;color:#1a1a1a;transform:scaleX(1.0500);">2.7–3.4</div>
<div class="t r" style="left:810.19px;top:342.31px;font-size:13.6px;font-family:'Liberation Serif', serif;font-weight:400;color:#1a1a1a;transform:scaleX(1.0500);">2.2–2.9</div>
<div class="t r" style="left:877.29px;top:342.31px;font-size:13.6px;font-family:'Liberation Serif', serif;font-weight:400;color:#1a1a1a;transform:scaleX(1.0500);">2.0–2.4</div>
<div class="t r" style="left:945.09px;top:342.31px;font-size:13.6px;font-family:'Liberation Serif', serif;font-weight:400;color:#1a1a1a;transform:scaleX(1.0500);">2.0–2.2</div>
<div class="t r" style="left:37.00px;top:358.41px;font-size:13.6px;font-family:'Liberation Serif', serif;font-weight:400;color:#1a1a1a;transform:scaleX(1.0622);letter-spacing:0.4px;">June projection</div>
<div class="t r" style="left:185.18px;top:358.61px;font-size:13.6px;font-family:'Liberation Serif', serif;font-weight:400;color:#1a1a1a;transform:scaleX(1.0500);">3.1</div>
<div class="t r" style="left:222.88px;top:358.61px;font-size:13.6px;font-family:'Liberation Serif', serif;font-weight:400;color:#1a1a1a;transform:scaleX(1.0500);">2.4</div>
<div class="t r" style="left:260.38px;top:358.61px;font-size:13.6px;font-family:'Liberation Serif', serif;font-weight:400;color:#1a1a1a;transform:scaleX(1.0500);">2.1</div>
<div class="t r" style="left:405.89px;top:358.61px;font-size:13.6px;font-family:'Liberation Serif', serif;font-weight:400;color:#1a1a1a;transform:scaleX(1.0500);">2.9–3.4</div>
<div class="t r" style="left:472.49px;top:358.61px;font-size:13.6px;font-family:'Liberation Serif', serif;font-weight:400;color:#1a1a1a;transform:scaleX(1.0500);">2.3–2.7</div>
<div class="t r" style="left:540.29px;top:358.61px;font-size:13.6px;font-family:'Liberation Serif', serif;font-weight:400;color:#1a1a1a;transform:scaleX(1.0500);">2.0–2.2</div>
<div class="t r" style="left:742.59px;top:358.61px;font-size:13.6px;font-family:'Liberation Serif', serif;font-weight:400;color:#1a1a1a;transform:scaleX(1.0500);">2.5–3.5</div>
<div class="t r" style="left:810.19px;top:358.61px;font-size:13.6px;font-family:'Liberation Serif', serif;font-weight:400;color:#1a1a1a;transform:scaleX(1.0500);">2.1–3.2</div>
<div class="t r" style="left:877.29px;top:358.61px;font-size:13.6px;font-family:'Liberation Serif', serif;font-weight:400;color:#1a1a1a;transform:scaleX(1.0500);">2.0–2.9</div>
<div class="t r" style="left:23.30px;top:424.11px;font-size:13.6px;font-family:'Liberation Serif', serif;font-weight:400;color:#1a1a1a;transform:scaleX(1.0584);letter-spacing:0.4px;">Federal funds rate</div>
<div class="t r" style="left:185.18px;top:424.31px;font-size:13.6px;font-family:'Liberation Serif', serif;font-weight:400;color:#1a1a1a;transform:scaleX(1.0500);">3.6</div>
<div class="t r" style="left:222.88px;top:424.31px;font-size:13.6px;font-family:'Liberation Serif', serif;font-weight:400;color:#1a1a1a;transform:scaleX(1.0500);">3.4</div>
<div class="t r" style="left:260.38px;top:424.31px;font-size:13.6px;font-family:'Liberation Serif', serif;font-weight:400;color:#1a1a1a;transform:scaleX(1.0500);">3.1</div>
<div class="t r" style="left:298.27px;top:424.31px;font-size:13.6px;font-family:'Liberation Serif', serif;font-weight:400;color:#1a1a1a;transform:scaleX(1.0500);">3.1</div>
<div class="t r" style="left:350.98px;top:424.31px;font-size:13.6px;font-family:'Liberation Serif', serif;font-weight:400;color:#1a1a1a;transform:scaleX(1.0500);">3.0</div>
<div class="t r" style="left:405.89px;top:424.31px;font-size:13.6px;font-family:'Liberation Serif', serif;font-weight:400;color:#1a1a1a;transform:scaleX(1.0500);">3.6–4.1</div>
<div class="t r" style="left:472.49px;top:424.31px;font-size:13.6px;font-family:'Liberation Serif', serif;font-weight:400;color:#1a1a1a;transform:scaleX(1.0500);">2.9–3.6</div>
<div class="t r" style="left:540.29px;top:424.31px;font-size:13.6px;font-family:'Liberation Serif', serif;font-weight:400;color:#1a1a1a;transform:scaleX(1.0500);">2.9–3.6</div>
<div class="t r" style="left:607.89px;top:424.31px;font-size:13.6px;font-family:'Liberation Serif', serif;font-weight:400;color:#1a1a1a;transform:scaleX(1.0500);">2.8–3.6</div>
<div class="t r" style="left:675.59px;top:424.31px;font-size:13.6px;font-family:'Liberation Serif', serif;font-weight:400;color:#1a1a1a;transform:scaleX(1.0500);">2.8–3.5</div>
<div class="t r" style="left:742.59px;top:424.31px;font-size:13.6px;font-family:'Liberation Serif', serif;font-weight:400;color:#1a1a1a;transform:scaleX(1.0500);">2.9–4.4</div>
<div class="t r" style="left:810.19px;top:424.31px;font-size:13.6px;font-family:'Liberation Serif', serif;font-weight:400;color:#1a1a1a;transform:scaleX(1.0500);">2.6–3.9</div>
<div class="t r" style="left:877.29px;top:424.31px;font-size:13.6px;font-family:'Liberation Serif', serif;font-weight:400;color:#1a1a1a;transform:scaleX(1.0500);">2.4–3.9</div>
<div class="t r" style="left:945.09px;top:424.31px;font-size:13.6px;font-family:'Liberation Serif', serif;font-weight:400;color:#1a1a1a;transform:scaleX(1.0500);">2.6–3.9</div>
<div class="t r" style="left:1012.29px;top:424.31px;font-size:13.6px;font-family:'Liberation Serif', serif;font-weight:400;color:#1a1a1a;transform:scaleX(1.0500);">2.6–3.9</div>
<div class="t r" style="left:37.00px;top:440.81px;font-size:13.6px;font-family:'Liberation Serif', serif;font-weight:400;color:#1a1a1a;transform:scaleX(1.0622);letter-spacing:0.4px;">June projection</div>
<div class="t r" style="left:185.18px;top:441.01px;font-size:13.6px;font-family:'Liberation Serif', serif;font-weight:400;color:#1a1a1a;transform:scaleX(1.0500);">3.9</div>
<div class="t r" style="left:222.88px;top:441.01px;font-size:13.6px;font-family:'Liberation Serif', serif;font-weight:400;color:#1a1a1a;transform:scaleX(1.0500);">3.6</div>
<div class="t r" style="left:260.38px;top:441.01px;font-size:13.6px;font-family:'Liberation Serif', serif;font-weight:400;color:#1a1a1a;transform:scaleX(1.0500);">3.4</div>
<div class="t r" style="left:350.98px;top:441.01px;font-size:13.6px;font-family:'Liberation Serif', serif;font-weight:400;color:#1a1a1a;transform:scaleX(1.0500);">3.0</div>
<div class="t r" style="left:405.89px;top:441.01px;font-size:13.6px;font-family:'Liberation Serif', serif;font-weight:400;color:#1a1a1a;transform:scaleX(1.0500);">3.9–4.4</div>
<div class="t r" style="left:472.49px;top:441.01px;font-size:13.6px;font-family:'Liberation Serif', serif;font-weight:400;color:#1a1a1a;transform:scaleX(1.0500);">3.1–3.9</div>
<div class="t r" style="left:540.29px;top:441.01px;font-size:13.6px;font-family:'Liberation Serif', serif;font-weight:400;color:#1a1a1a;transform:scaleX(1.0500);">2.9–3.6</div>
<div class="t r" style="left:675.59px;top:441.01px;font-size:13.6px;font-family:'Liberation Serif', serif;font-weight:400;color:#1a1a1a;transform:scaleX(1.0500);">2.6–3.6</div>
<div class="t r" style="left:742.59px;top:441.01px;font-size:13.6px;font-family:'Liberation Serif', serif;font-weight:400;color:#1a1a1a;transform:scaleX(1.0500);">3.6–4.4</div>
<div class="t r" style="left:810.19px;top:441.01px;font-size:13.6px;font-family:'Liberation Serif', serif;font-weight:400;color:#1a1a1a;transform:scaleX(1.0500);">2.6–4.1</div>
<div class="t r" style="left:877.29px;top:441.01px;font-size:13.6px;font-family:'Liberation Serif', serif;font-weight:400;color:#1a1a1a;transform:scaleX(1.0500);">2.6–3.9</div>
<div class="t r" style="left:1012.29px;top:441.01px;font-size:13.6px;font-family:'Liberation Serif', serif;font-weight:400;color:#1a1a1a;transform:scaleX(1.0500);">2.5–3.9</div>
<div class="t r" style="left:23.20px;top:383.21px;font-size:13.6px;font-family:'Liberation Serif', serif;font-weight:400;color:#1a1a1a;transform:scaleX(1.0598);letter-spacing:0.4px;">Memo: Projected</div>
<div class="t r" style="left:23.20px;top:399.21px;font-size:13.6px;font-family:'Liberation Serif', serif;font-weight:400;color:#1a1a1a;transform:scaleX(1.0681);letter-spacing:0.4px;">appropriate policy path</div>
<div class="t" style="left:10.50px;top:482.90px;font-size:20px;font-family:'Noto Serif CJK SC', serif;font-weight:600;color:#111;letter-spacing:1.3px;transform:scaleY(0.9);">数据来源：美联储、东吴证券研究所</div>
</body></html>
